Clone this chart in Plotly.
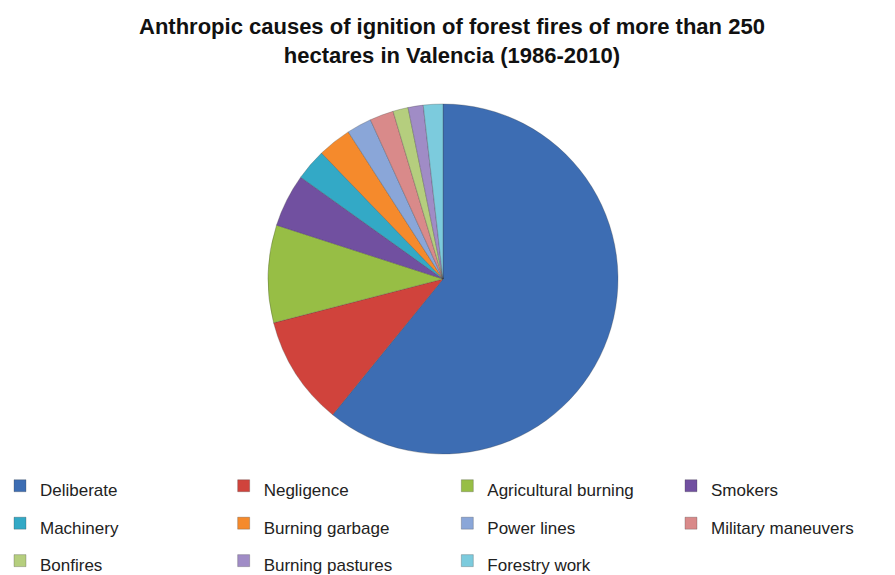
import plotly.graph_objects as go

causes = ["Deliberate", "Negligence", "Agricultural burning", "Smokers",
          "Machinery", "Burning garbage", "Power lines", "Military maneuvers",
          "Bonfires", "Burning pastures", "Forestry work"]
shares = [60.8, 10.1, 9.0, 4.9, 2.9, 3.1, 2.3, 2.2, 1.4, 1.4, 1.8]
colors = ["#3D6DB3", "#D0433C", "#97BE45", "#7150A0", "#33A9C6", "#F58A2C",
          "#8AA6D8", "#D98A8A", "#B5CE7E", "#A08CC6", "#7CCBDD"]

# legend labels with a smaller visible font (row spacing comes from the legend font size)
legend_labels = ['<span style="font-size:17px">%s</span>' % c for c in causes]

W, H = 895, 575
cx, cy, r = 443, 279, 175

fig = go.Figure(go.Pie(
    labels=legend_labels, values=shares, sort=False, direction="clockwise", rotation=0,
    marker=dict(colors=colors, line=dict(color="rgba(60,60,60,0.35)", width=0.8)),
    textinfo="none", hoverinfo="label+percent",
    domain=dict(x=[(cx - r) / W, (cx + r) / W], y=[1 - (cy + r) / H, 1 - (cy - r) / H]),
))

fig.add_annotation(
    text="<b>Anthropic causes of ignition of forest fires of more than 250<br>hectares in Valencia (1986-2010)</b>",
    x=452 / W, y=1 - 41 / H, xref="paper", yref="paper", xanchor="center", yanchor="middle",
    showarrow=False, font=dict(family="Liberation Sans, Arial", size=22, color="#111111"),
)

fig.update_layout(
    width=W, height=H, margin=dict(l=0, r=0, t=0, b=0, autoexpand=False),
    paper_bgcolor="white", plot_bgcolor="white",
    showlegend=True,
    legend=dict(orientation="h", x=0, y=1 - 462 / H, xanchor="left", yanchor="top",
                entrywidth=0.2499, entrywidthmode="fraction",
                font=dict(family="Liberation Sans, Arial", size=26.5, color="#222222"),
                itemclick=False, itemdoubleclick=False),
)

fig.write_html("out.html")
